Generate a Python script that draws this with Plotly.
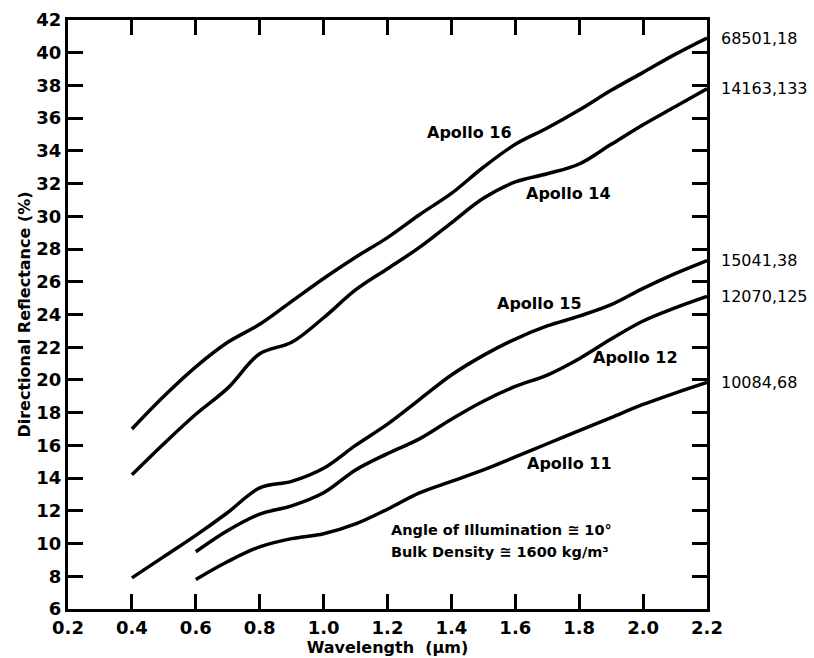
import plotly.graph_objects as go

wavelength = [0.4, 0.5, 0.6, 0.7, 0.8, 0.9, 1.0, 1.1, 1.2, 1.3, 1.4, 1.5, 1.6, 1.7, 1.8, 1.9, 2.0, 2.1, 2.2]
wavelength_late = wavelength[2:]

apollo16 = [17.0, 19.0, 20.8, 22.3, 23.4, 24.8, 26.2, 27.5, 28.7, 30.1, 31.4, 33.0, 34.4, 35.4, 36.5, 37.7, 38.8, 39.9, 40.9]
apollo14 = [14.2, 16.1, 17.9, 19.5, 21.6, 22.3, 23.8, 25.5, 26.8, 28.1, 29.6, 31.1, 32.1, 32.6, 33.2, 34.4, 35.6, 36.7, 37.8]
apollo15 = [7.9, 9.2, 10.5, 11.9, 13.4, 13.8, 14.6, 16.0, 17.3, 18.8, 20.3, 21.5, 22.5, 23.3, 23.9, 24.6, 25.6, 26.5, 27.3]
apollo12 = [9.5, 10.8, 11.8, 12.3, 13.1, 14.5, 15.5, 16.4, 17.6, 18.7, 19.6, 20.3, 21.3, 22.5, 23.6, 24.4, 25.1]
apollo11 = [7.8, 8.9, 9.8, 10.3, 10.6, 11.2, 12.1, 13.1, 13.8, 14.5, 15.3, 16.1, 16.9, 17.7, 18.5, 19.2, 19.85]

series = [
    ("Apollo 16", "68501,18", wavelength, apollo16, 1.458, 35.1),
    ("Apollo 14", "14163,133", wavelength, apollo14, 1.765, 31.4),
    ("Apollo 15", "15041,38", wavelength, apollo15, 1.677, 24.7),
    ("Apollo 12", "12070,125", wavelength_late, apollo12, 1.975, 21.4),
    ("Apollo 11", "10084,68", wavelength_late, apollo11, 1.771, 14.9),
]

x_ticks = [0.2, 0.4, 0.6, 0.8, 1.0, 1.2, 1.4, 1.6, 1.8, 2.0, 2.2]
x_ticklabels = ["0.2", "0.4", "0.6", "0.8", "1.0", "1.2", "1.4", "1.6", "1.8", "2.0", "2.2"]
y_ticks = list(range(6, 43, 2))
y_ticklabels = [str(v) for v in y_ticks]

FONT = "DejaVu Sans"
fig = go.Figure()
annotations = []
for name, sample, xs, ys, lx, ly in series:
    fig.add_trace(go.Scatter(x=xs, y=ys, mode="lines", name=name,
                             line=dict(color="black", width=3.5, shape="spline", smoothing=1.0),
                             showlegend=False))
    annotations.append(dict(x=lx, y=ly, xref="x", yref="y", text=name, showarrow=False,
                            font=dict(family=FONT, size=16, color="black", weight="bold")))
    annotations.append(dict(x=xs[-1], y=ys[-1], xref="x", yref="y", text=sample, showarrow=False,
                            xanchor="left", xshift=12,
                            font=dict(family=FONT, size=16, color="black")))

annotations.append(dict(x=1.205, y=10.83, xref="x", yref="y", text="Angle of Illumination ≅ 10°",
                        showarrow=False, xanchor="left",
                        font=dict(family=FONT, size=14.5, color="black", weight="bold")))
annotations.append(dict(x=1.205, y=9.48, xref="x", yref="y", text="Bulk Density ≅ 1600 kg/m³",
                        showarrow=False, xanchor="left",
                        font=dict(family=FONT, size=14.5, color="black", weight="bold")))

fig.update_layout(
    width=814, height=658,
    margin=dict(l=68, r=107, t=20, b=49),
    paper_bgcolor="white", plot_bgcolor="white",
    font=dict(family=FONT, color="black"),
    annotations=annotations,
)
fig.update_xaxes(range=[0.2, 2.2], tickvals=x_ticks, ticktext=x_ticklabels,
                 ticks="inside", ticklen=15, tickwidth=3, tickcolor="black",
                 showline=True, linewidth=3, linecolor="black", mirror="ticks",
                 showgrid=False, zeroline=False, automargin=False,
                 tickfont=dict(family=FONT, size=18, color="black", weight="bold"),
                 title=dict(text="Wavelength  (μm)", standoff=2,
                            font=dict(family=FONT, size=16, color="black", weight="bold")))
fig.update_yaxes(range=[6, 42], tickvals=y_ticks, ticktext=y_ticklabels,
                 ticks="inside", ticklen=15, tickwidth=3, tickcolor="black",
                 showline=True, linewidth=3, linecolor="black", mirror="ticks",
                 showgrid=False, zeroline=False, automargin=False,
                 tickfont=dict(family=FONT, size=18, color="black", weight="bold"),
                 title=dict(text="Directional Reflectance (%)", standoff=2,
                            font=dict(family=FONT, size=16, color="black", weight="bold")))

fig.write_html("out.html")
